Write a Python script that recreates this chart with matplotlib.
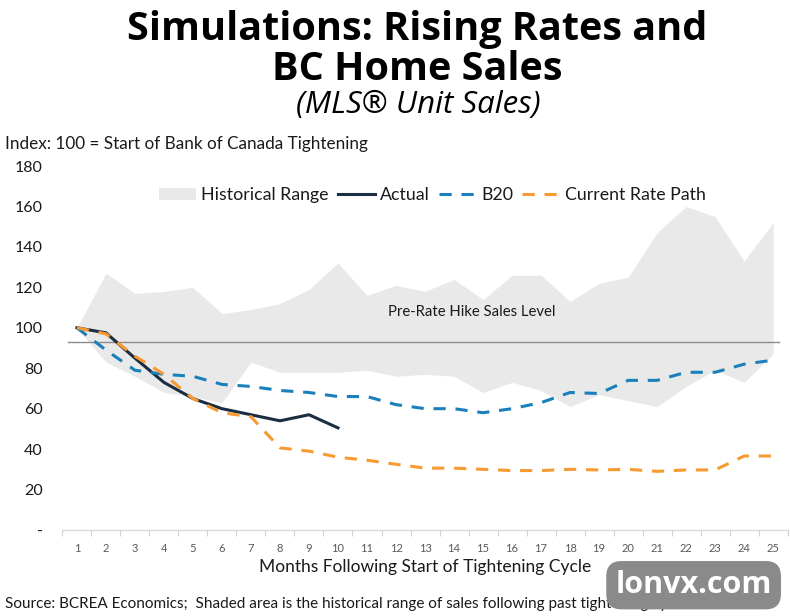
import matplotlib
matplotlib.use('Agg')
import matplotlib.pyplot as plt
import numpy as np

months = list(range(1, 26))

hist_upper = [100, 127, 117, 118, 120, 107, 109, 112, 119, 132, 116, 121, 118, 124, 114,
              126, 126, 113, 122, 125, 147, 160, 155, 133, 152]
hist_lower = [100, 83, 76, 68, 66, 63, 83, 78, 78, 78, 79, 76, 77, 76, 68,
              73, 69, 61, 67, 64, 61, 71, 79, 73, 87]
actual = [100, 97.5, 85, 73, 65, 60, 57, 54, 57, 50.5]
b20 = [100, 89, 79, 77, 76, 72, 71, 69, 68, 66, 66, 62, 60, 60, 58,
       60, 63, 68, 67.5, 74, 74, 78, 78, 82, 84]
current_path = [100, 97, 86, 77, 65, 58, 56, 40.6, 39, 36, 34.5, 32.5, 30.6, 30.6, 30,
                29.4, 29.4, 30, 29.7, 30, 29, 29.7, 29.7, 36.6, 36.6]
pre_hike_level = 93

body_font = ['Lato', 'DejaVu Sans']
title_font = ['Open Sans', 'DejaVu Sans']

fig = plt.figure(figsize=(7.9, 6.16), dpi=100)
ax = fig.add_axes([0.079, 0.1396, 0.918, 0.5909])

ax.fill_between(months, hist_lower, hist_upper, color='#e9e9e9', linewidth=0,
                label='Historical Range')
ax.plot([0.7, 25.2], [pre_hike_level, pre_hike_level], color='#8c8c8c', linewidth=1)
ax.text(14.6, 108, 'Pre-Rate Hike Sales Level', ha='center', va='center',
        fontsize=10.7, family=body_font, color='#1a1a1a')

ax.plot(months[:len(actual)], actual, color='#1b2d40', linewidth=2.2, label='Actual')
ax.plot(months, b20, color='#1a80bb', linewidth=2.2, dashes=(4, 3.2), label='B20')
ax.plot(months, current_path, color='#f79a32', linewidth=2.2, dashes=(4, 3.2),
        label='Current Rate Path')

ax.set_xlim(0.5, 25.5)
ax.set_ylim(0, 180)
ax.set_yticks(range(0, 181, 20))
ax.set_yticklabels(['-'] + [str(v) for v in range(20, 181, 20)], family=body_font,
                   fontsize=11.5, color='#1a1a1a')
ax.set_xticks(months)
ax.set_xticklabels([str(m) for m in months], family=body_font, fontsize=8,
                   color='#595959')
ax.set_xticks(np.arange(0.5, 26, 1), minor=True)
ax.tick_params(axis='x', which='major', length=0, pad=9)
ax.tick_params(axis='x', which='minor', length=4, color='#d0d0d0', width=0.8)
ax.tick_params(axis='y', length=0, pad=14)
for side in ['top', 'right', 'left']:
    ax.spines[side].set_visible(False)
ax.spines['bottom'].set_color('#d9d9d9')
ax.spines['bottom'].set_linewidth(1)

ax.set_xlabel('Months Following Start of Tightening Cycle', family=body_font,
              fontsize=12.5, color='#1a1a1a', labelpad=4)

leg = ax.legend(loc='upper center', bbox_to_anchor=(0.51, 0.985), ncol=4, frameon=False,
                prop={'family': body_font, 'size': 12.8}, handlelength=2.1,
                handletextpad=0.3, columnspacing=0.5)
for t in leg.get_texts():
    t.set_color('#1a1a1a')

fig.text(0.528, 0.92, 'Simulations: Rising Rates and\nBC Home Sales', ha='center',
         va='center', fontsize=28.5, fontweight='bold', family=title_font,
         linespacing=1.05, color='black')
fig.text(0.53, 0.83, '(MLS® Unit Sales)', ha='center', va='center', fontsize=22.5,
         style='italic', family=title_font, color='black')
fig.text(0.006, 0.767, 'Index: 100 = Start of Bank of Canada Tightening', ha='left',
         va='center', fontsize=12.3, family=body_font, color='#1a1a1a')
fig.text(0.006, 0.019, 'Source: BCREA Economics;  Shaded area is the historical range of '
         'sales following past tightening cycles', ha='left', va='center',
         fontsize=11, family=body_font, color='#1a1a1a')

fig.text(0.878, 0.05, 'lonvx.com', ha='center', va='center', fontsize=22,
         fontweight='bold', family=title_font, color='white',
         bbox=dict(boxstyle='round,pad=0.3,rounding_size=0.5', facecolor='#8a8a8a',
                   edgecolor='none'))

fig.savefig('out.png', dpi=100)
